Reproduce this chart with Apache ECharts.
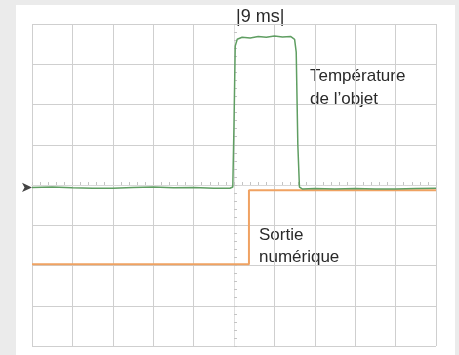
<!DOCTYPE html>
<html>
<head>
<meta charset="utf-8">
<script src="https://cdn.jsdelivr.net/npm/echarts@6/dist/echarts.min.js"></script>
<style>
  html, body { margin: 0; padding: 0; background: #ebebeb; }
  #panel { position: absolute; left: 16px; top: 5px; width: 439px; height: 350px; background: #fff; }
  #scope { position: absolute; left: 0; top: 0; width: 459px; height: 355px; }
</style>
</head>
<body>
<div id="panel"></div>
<div id="scope"></div>
<script>
// divisions: x -5..5 (centre = trigger), y -4..4
var xRange = [-5, 5];
var yRange = [-4, 4];

// Température de l'objet (green trace)
var tempTrace = [
  [-5, -0.06], [-4.5, -0.05], [-4, -0.07], [-3.5, -0.08], [-3, -0.08], [-2.5, -0.06],
  [-2, -0.05], [-1.5, -0.07], [-1, -0.06], [-0.5, -0.08], [-0.1, -0.08], [-0.03, -0.05],
  [0, 1.5], [0.03, 3.45], [0.08, 3.62], [0.2, 3.67], [0.4, 3.65], [0.6, 3.69],
  [0.8, 3.67], [1.0, 3.7], [1.2, 3.68], [1.4, 3.69], [1.5, 3.62], [1.54, 3.3],
  [1.58, 1.0], [1.62, -0.05], [1.7, -0.1], [2, -0.09], [2.5, -0.1], [3, -0.09],
  [3.5, -0.1], [4, -0.1], [4.5, -0.09], [5, -0.08]
];

// Sortie numérique (orange trace)
var outTrace = [
  [-5, -1.97], [0.37, -1.97], [0.37, -0.13], [5, -0.13]
];

var labels = {
  pulse: '|9 ms|',
  temp: ['Température', 'de l\u2019objet'],
  out: ['Sortie', 'numérique']
};

var chart = echarts.init(document.getElementById('scope'));
var font = '"Liberation Sans", Arial, sans-serif';

function scaleAxis(range, inside, withGrid, lineColor) {
  return {
    type: 'value', min: range[0], max: range[1], interval: 1,
    axisLine: { show: true, onZero: true, onZeroAxisIndex: 0, lineStyle: { color: lineColor, type: 'dotted' } },
    axisTick: { show: true, inside: inside, length: 3, lineStyle: { color: '#c4c4c4' } },
    minorTick: { show: true, splitNumber: 5, length: 3, lineStyle: { color: '#c4c4c4' } },
    axisLabel: { show: false },
    splitLine: { show: withGrid, lineStyle: { color: '#cfcfcf', width: 1 } }
  };
}

var option = {
  animation: false,
  grid: { left: 32, right: 23, top: 24, bottom: 9 },
  // two copies of each centre axis so the small ticks cross the line
  xAxis: [scaleAxis(xRange, true, true, '#d8d8d8'), scaleAxis(xRange, false, false, '#d8d8d8')],
  yAxis: [scaleAxis(yRange, true, true, '#e0e0e0'), scaleAxis(yRange, false, false, '#e0e0e0')],
  series: [
    {
      name: 'Sortie numérique',
      type: 'line',
      data: outTrace,
      showSymbol: false,
      lineStyle: { color: '#f0a262', width: 2 }
    },
    {
      name: 'Température de l\u2019objet',
      type: 'line',
      data: tempTrace,
      showSymbol: false,
      lineStyle: { color: '#5f9e62', width: 1.5 },
      markPoint: {
        silent: true,
        data: [{
          coord: tempTrace[0], symbol: 'arrow', symbolSize: [7, 10],
          symbolRotate: -90, symbolOffset: [0, 0],
          itemStyle: { color: '#444' }, label: { show: false }
        }]
      }
    }
  ],
  graphic: [
    { type: 'text', left: 236, top: 8, style: { text: labels.pulse, font: '18px ' + font, fill: '#2a2a2a' } },
    { type: 'text', left: 310, top: 65, style: { text: labels.temp.join('\n'), font: '17px ' + font, fill: '#2a2a2a', lineHeight: 23 } },
    { type: 'text', left: 259, top: 224, style: { text: labels.out.join('\n'), font: '17px ' + font, fill: '#2a2a2a', lineHeight: 22 } }
  ]
};

chart.setOption(option);
</script>
</body>
</html>
